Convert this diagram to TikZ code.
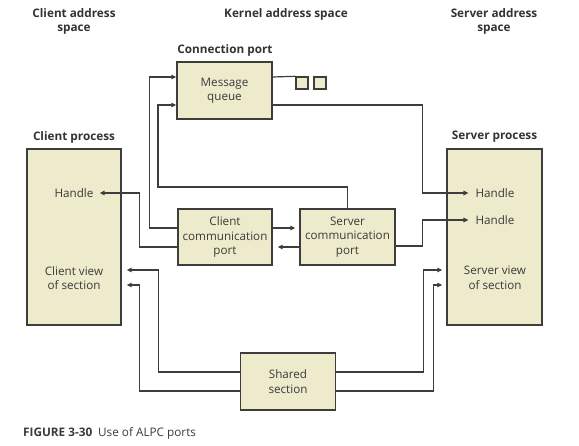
\documentclass[tikz,border=0pt]{standalone}
\usepackage{fontspec}
\setmainfont{Open Sans}
\usetikzlibrary{arrows.meta}
\definecolor{boxfill}{HTML}{EEEACC}
\definecolor{linegray}{HTML}{3D3D3D}
\definecolor{txtgray}{HTML}{3A3A3A}

\begin{document}
\begin{tikzpicture}[x=1bp,y=-1bp,
  box/.style={draw=linegray,line width=1.4bp,fill=boxfill,inner sep=0pt,align=center,text=txtgray,font=\fontsize{11.7}{14.5}\selectfont},
  lbl/.style={align=center,text=txtgray,font=\fontsize{11.7}{14.5}\selectfont},
  head/.style={align=center,text=black!80,font=\fontsize{11.8}{14}\selectfont\bfseries},
  wire/.style={draw=linegray,line width=1.2bp},
  arr/.style={wire,-{Triangle[length=5bp,width=4.5bp]}}]
\useasboundingbox (0,0) rectangle (579,446);

\node[head] (clientspace) at (74,21) {Client address\\space};
\node[head] (kernelspace) at (286,14) {Kernel address space};
\node[head] (serverspace) at (494,21) {Server address\\space};
\node[head] (connlbl) at (225,50) {Connection port};
\node[box,minimum width=95bp,minimum height=57bp] (msgq) at (224.5,90.5) {Message\\queue};
\node[box,minimum size=12bp] (sq1) at (302,83) {};
\node[box,minimum size=12bp] (sq2) at (320,83) {};

\node[head] (cproclbl) at (74,137) {Client process};
\node[box,minimum width=94bp,minimum height=176bp] (cproc) at (74,237) {};
\node[head] (sproclbl) at (494.5,137) {Server process};
\node[box,minimum width=95bp,minimum height=176bp] (sproc) at (494.5,237) {};
\node[lbl,inner xsep=6bp] (chandle) at (74,193) {Handle};
\node[lbl] (cview) at (74,278) {Client view\\of section};
\node[lbl,inner xsep=7bp] (shandlea) at (495,193) {Handle};
\node[lbl,inner xsep=7bp] (shandleb) at (495,220) {Handle};
\node[lbl] (sview) at (495,278) {Server view\\of section};

\node[box,minimum width=94bp,minimum height=56bp] (cport) at (225,237) {Client\\communication\\port};
\node[box,minimum width=95bp,minimum height=56bp] (sport) at (347.5,237) {Server\\communication\\port};
\node[box,minimum width=95bp,minimum height=57bp] (shared) at (288,381.5) {Shared\\section};
\node[anchor=west,inner sep=0pt,text=txtgray,font=\fontsize{11.8}{14}\selectfont] (caption) at (23,433) {\textbf{FIGURE 3-30}\enspace Use of ALPC ports};

\draw[wire] ([yshift=13.5bp]msgq.east) -- (sq1.north west);
\draw[arr] ([yshift=9bp]cport.west) -- ++(-28,0) |- ([yshift=13.5bp]msgq.west);
\draw[arr] (sport.north) |- (158,187) |- ([yshift=-14.5bp]msgq.west);
\draw[arr] ([yshift=-14.5bp]msgq.east) -- ++(150,0) |- (shandlea.west);
\draw[arr] ([yshift=-10bp]cport.west) -- ++(-38,0) |- (chandle.east);
\draw[arr,shorten >=4bp] ([yshift=9bp]cport.east) -- ([yshift=9bp]sport.west);
\draw[arr,shorten >=5bp] ([yshift=-10bp]sport.west) -- ([yshift=-10bp]cport.east);
\draw[arr] ([yshift=-9bp]sport.east) -- ++(27,0) |- (shandleb.west);

\draw[arr,shorten >=5bp] ([yshift=9.5bp]shared.west) -- ++(-81.5,0) |- ([yshift=-33bp]cproc.east);
\draw[arr,shorten >=5bp] ([yshift=-9.5bp]shared.west) -- ++(-100.5,0) |- ([yshift=-48bp]cproc.east);
\draw[arr,shorten >=4bp] ([yshift=9.5bp]shared.east) -- ++(87.5,0) |- ([yshift=-33bp]sproc.west);
\draw[arr,shorten >=4bp] ([yshift=-9.5bp]shared.east) -- ++(97.5,0) |- ([yshift=-48bp]sproc.west);

\end{tikzpicture}
\end{document}
